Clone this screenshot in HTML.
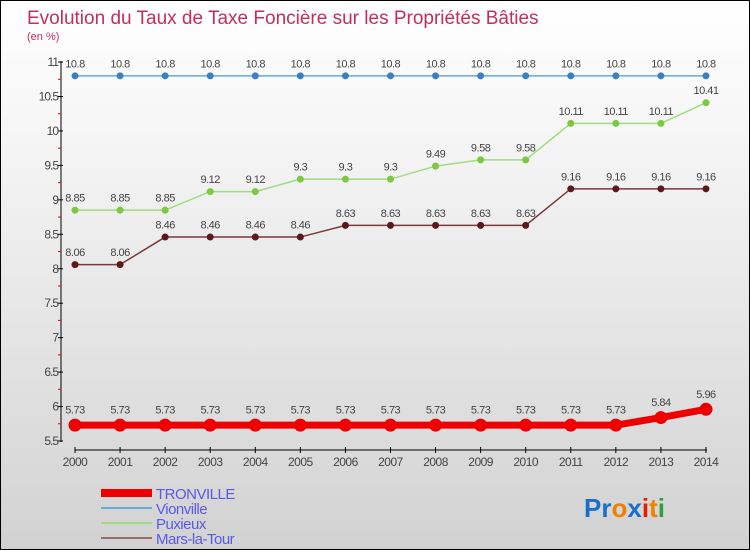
<!DOCTYPE html>
<html><head><meta charset="utf-8"><style>
body{margin:0}
#c{width:748px;height:548px;border:1px solid #000;background:linear-gradient(#fff,#f3f3f3 30%,#d2d2d2);position:relative;font-family:"Liberation Sans",sans-serif}
</style></head><body>
<div id="c">
<svg id="s" width="748" height="548">
<text x="26" y="23" font-size="19" fill="#c0305a">Evolution du Taux de Taxe Foncière sur les Propriétés Bâties</text>
<text x="26" y="39" font-size="11" fill="#c0305a">(en %)</text>
</svg>
</div>
<script>
const years=[2000,2001,2002,2003,2004,2005,2006,2007,2008,2009,2010,2011,2012,2013,2014];
const tronville=[5.73,5.73,5.73,5.73,5.73,5.73,5.73,5.73,5.73,5.73,5.73,5.73,5.73,5.84,5.96];
const vionville=[10.8,10.8,10.8,10.8,10.8,10.8,10.8,10.8,10.8,10.8,10.8,10.8,10.8,10.8,10.8];
const puxieux=[8.85,8.85,8.85,9.12,9.12,9.3,9.3,9.3,9.49,9.58,9.58,10.11,10.11,10.11,10.41];
const marsLaTour=[8.06,8.06,8.46,8.46,8.46,8.46,8.63,8.63,8.63,8.63,8.63,9.16,9.16,9.16,9.16];
const yTicks=[5.5,6,6.5,7,7.5,8,8.5,9,9.5,10,10.5,11];
const yTickLabels=["5.5","6","6.5","7","7.5","8","8.5","9","9.5","10","10.5","11"];
const svg=document.getElementById('s');const NS='http://www.w3.org/2000/svg';
const X=i=>74+i*45.07, Y=v=>440-(v-5.5)*68.9;
function mk(t,a,p){const e=document.createElementNS(NS,t);for(const k in a)e.setAttribute(k,a[k]);(p||svg).appendChild(e);return e;}
let ax=mk('line',{x1:60,y1:60,x2:60,y2:441,stroke:'#000'});


let xa=mk('line',{x1:74,y1:449,x2:706,y2:449,stroke:'#000'});


yTicks.forEach((v,i)=>{mk('line',{x1:57,y1:Y(v),x2:62,y2:Y(v),stroke:'#000'});
 if(i<yTicks.length-1)mk('line',{x1:57,y1:Y(v+0.25),x2:60,y2:Y(v+0.25),stroke:'#e00'});
 const t=mk('text',{x:57,y:Y(v)+4,'font-size':12,'text-anchor':'end',fill:'#444','letter-spacing':'-1'});t.textContent=yTickLabels[i];
 
 });
years.forEach((y,i)=>{mk('line',{x1:X(i),y1:446,x2:X(i),y2:452,stroke:'#000'});
 const t=mk('text',{x:X(i),y:465,'font-size':12,'text-anchor':'middle',fill:'#444','letter-spacing':'-0.5'});t.textContent=y;
 
 });
function series(d,col,dot,w,r,name){const g=mk('g',{});
 
 
 mk('polyline',{points:d.map((v,i)=>X(i)+','+Y(v)).join(' '),fill:'none',stroke:col,'stroke-width':w},g);
 d.forEach((v,i)=>{const c=mk('circle',{cx:X(i),cy:Y(v),r:r,fill:dot},g);
  
  
  const t=mk('text',{x:X(i),y:Y(v)-r-5,'font-size':11,'text-anchor':'middle',fill:'#444','letter-spacing':'-0.5'},g);t.textContent=v;
  
  });}
series(vionville,'#6aa8d8','#3a80c0',1.5,3.5,'series-vionville');
series(puxieux,'#a0dc80','#7cc840',1.5,3.5,'series-puxieux');
series(marsLaTour,'#7a3a3a','#5a1a1a',1.5,3.5,'series-mars-la-tour');
series(tronville,'#ee0000','#ee0000',7,6.5,'series-tronville');
const leg=[['TRONVILLE','#ee0000',8],['Vionville','#6aa8d8',2],['Puxieux','#a0dc80',2],['Mars-la-Tour','#9a6a6a',2]];
leg.forEach((l,i)=>{const g=mk('g',{});
 
 
 const yy=492+i*15;mk('line',{x1:100,y1:yy,x2:151,y2:yy,stroke:l[1],'stroke-width':l[2]},g);
 const t=mk('text',{x:155,y:yy+6,'font-size':15,fill:'#5a5ae8','letter-spacing':'-0.5'},g);t.textContent=l[0];});
const lg=mk('text',{x:583,y:516,'font-size':26,'font-weight':'bold'});


[['Pr','#1a70c8'],['o','#f08000'],['x','#1a70c8'],['i','#e02000'],['t','#f08000'],['i','#30a040']].forEach(p=>{const s=mk('tspan',{fill:p[1]},lg);s.textContent=p[0];});
</script>
</body></html>
